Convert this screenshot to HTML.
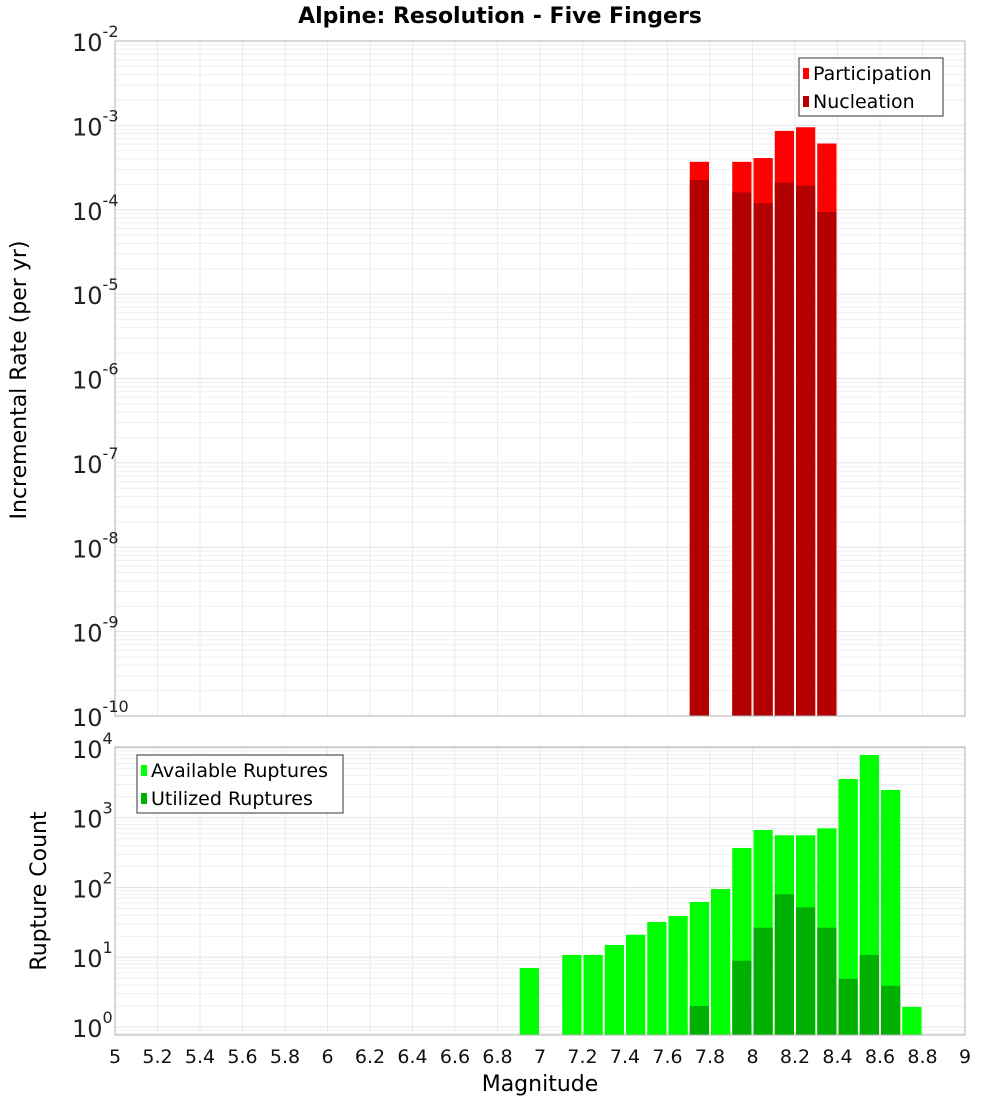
<!DOCTYPE html>
<html><head><meta charset="utf-8"><style>
body{margin:0;background:#fff}
svg{font-family:"DejaVu Sans","Liberation Sans",sans-serif}
</style></head><body>
<svg id="c" width="1000" height="1100"></svg>
<script>
const bins = [6.95,7.05,7.15,7.25,7.35,7.45,7.55,7.65,7.75,7.85,7.95,8.05,8.15,8.25,8.35,8.45,8.55,8.65,8.75];
const participation = [0,0,0,0,0,0,0,0,3.7e-4,0,3.7e-4,4.1e-4,8.6e-4,9.5e-4,6.1e-4,0,0,0,0];
const nucleation = [0,0,0,0,0,0,0,0,2.25e-4,0,1.6e-4,1.2e-4,2.1e-4,1.93e-4,9.4e-5,0,0,0,0];
const available = [7,0,10.8,10.8,15,21,32,39,62,95,368,667,560,560,705,3590,7940,2500,1.94];
const utilized = [0,0,0,0,0,0,0,0,2,0,8.9,26.5,80,52,26.5,4.9,10.8,3.9,0];
const xTicks = [5,5.2,5.4,5.6,5.8,6,6.2,6.4,6.6,6.8,7,7.2,7.4,7.6,7.8,8,8.2,8.4,8.6,8.8,9];
const topExp = [-10,-9,-8,-7,-6,-5,-4,-3,-2];
const botExp = [0,1,2,3,4];

const NS="http://www.w3.org/2000/svg", svg=document.getElementById('c');
function mk(t,a,p){const e=document.createElementNS(NS,t);for(const k in a)e.setAttribute(k,a[k]);(p||svg).appendChild(e);return e;}
const X0=115,X1=965;
const x=m=>X0+(m-5)/4*(X1-X0);
const T0=41,T1=716; const yTop=v=>T1-(Math.log10(v)+10)/8*(T1-T0);
const B0=747,B1=1035,BD=69.75,Bmin=-0.115; const yBot=v=>B1-(Math.log10(v)-Bmin)*BD;

function grid(y0,y1,decs,yf){
  const g=mk('g',{});  
  xTicks.forEach(t=>mk('line',{x1:x(t),x2:x(t),y1:y0,y2:y1,stroke:'#ebebeb'},g));
  decs.forEach(d=>{for(let k=1;k<10;k++){const v=k*Math.pow(10,d);const yy=yf(v);if(yy<y0-0.5||yy>y1+0.5)continue;mk('line',{x1:X0,x2:X1,y1:yy,y2:yy,stroke:k==1?'#e4e4e4':'#efefef'},g);}});
}
grid(T0,T1,[-10,-9,-8,-7,-6,-5,-4,-3,-2],yTop);
grid(B0,B1,[-1,0,1,2,3,4],yBot);

const bw=x(5.1)-x(5)-2;
bins.forEach((m,i)=>{
  if(participation[i]>0){let r=mk('rect',{x:x(m)-bw/2,y:yTop(participation[i]),width:bw,height:T1-yTop(participation[i]),fill:'#ff0000'});}
  if(nucleation[i]>0){let r=mk('rect',{x:x(m)-bw/2,y:yTop(nucleation[i]),width:bw,height:T1-yTop(nucleation[i]),fill:'#b30000'});}
  if(available[i]>0){let r=mk('rect',{x:x(m)-bw/2,y:yBot(available[i]),width:bw,height:B1-yBot(available[i]),fill:'#00ff00'});}
  if(utilized[i]>0){let r=mk('rect',{x:x(m)-bw/2,y:yBot(utilized[i]),width:bw,height:B1-yBot(utilized[i]),fill:'#00b000'});}
});
mk('rect',{x:X0,y:T0,width:X1-X0,height:T1-T0,fill:'none',stroke:'#b0b0b0'});
mk('rect',{x:X0,y:B0,width:X1-X0,height:B1-B0,fill:'none',stroke:'#b0b0b0'});

function ylab(e,yy){const t=mk('text',{x:72,y:yy+10,'font-size':24,fill:'#222'});t.textContent='10';const s=mk('tspan',{dy:-14,'font-size':16},t);s.textContent=e;}
topExp.forEach(e=>ylab(e,yTop(Math.pow(10,e))));
botExp.forEach(e=>ylab(e,yBot(Math.pow(10,e))));
xTicks.forEach(t=>{const tx=mk('text',{x:x(t),y:1063,'font-size':19,'text-anchor':'middle',fill:'#111'});tx.textContent=t;});

function txt(s,a,name){const t=mk('text',a);t.textContent=s;return t;}
txt('Alpine: Resolution - Five Fingers',{x:500,y:23,'font-size':22,'font-weight':'bold','text-anchor':'middle'},'chart-title');
txt('Magnitude',{x:540,y:1091,'font-size':22,'text-anchor':'middle'},'x-axis-title');
txt('Incremental Rate (per yr)',{x:0,y:0,'font-size':22,'text-anchor':'middle',transform:'translate(26,380) rotate(-90)'},'top-y-axis-title');
txt('Rupture Count',{x:0,y:0,'font-size':22,'text-anchor':'middle',transform:'translate(46,891) rotate(-90)'},'bottom-y-axis-title');

function legend(x0,y0,w,items,name){const g=mk('g',{});
  mk('rect',{x:x0,y:y0,width:w,height:58,fill:'#fff',stroke:'#333'},g);
  items.forEach((it,i)=>{mk('rect',{x:x0+4,y:y0+10+i*28,width:6,height:11,fill:it[1]},g);const t=mk('text',{x:x0+14,y:y0+22+i*28,'font-size':19},g);t.textContent=it[0];});}
legend(799,58,144,[['Participation','#ff0000'],['Nucleation','#b30000']],'top-legend');
legend(137,755,206,[['Available Ruptures','#00ff00'],['Utilized Ruptures','#00b000']],'bottom-legend');
</script>
</body></html>
